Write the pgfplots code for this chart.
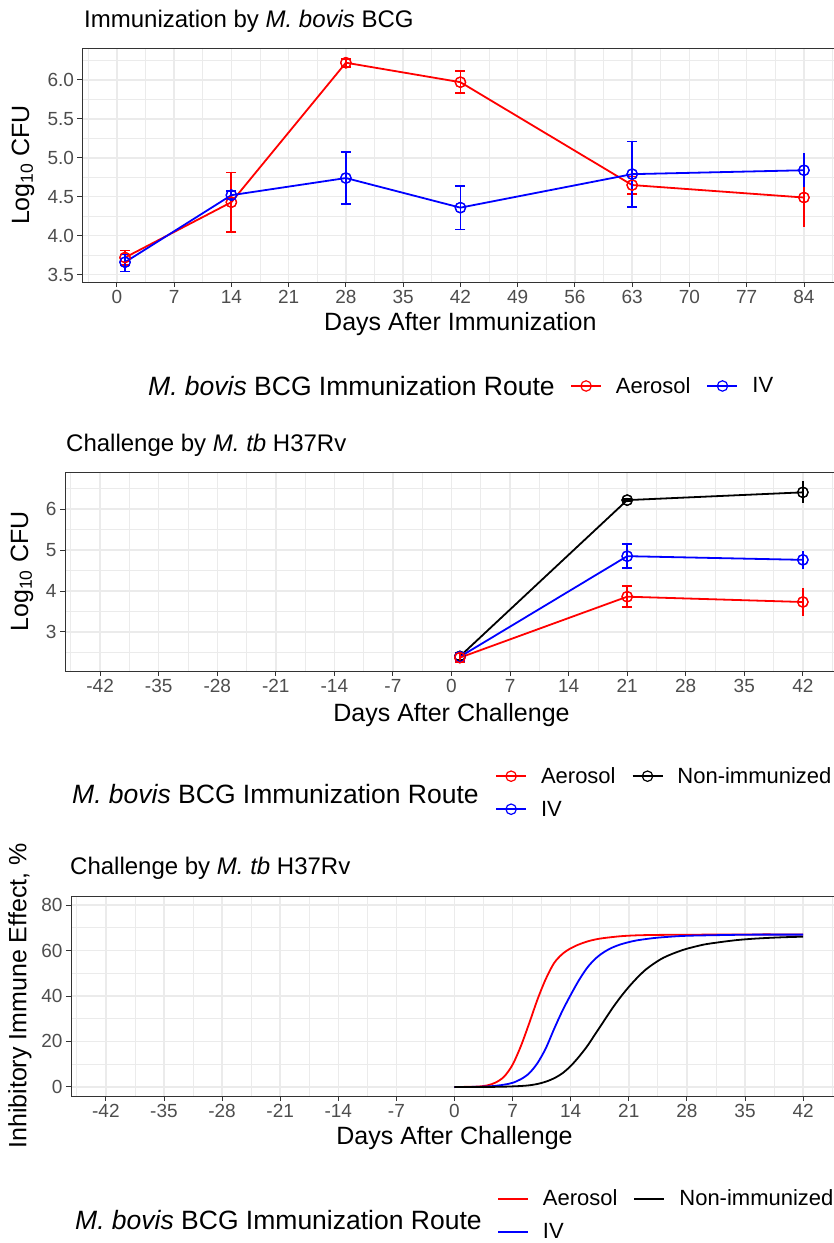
\documentclass[border=0pt]{standalone}
\usepackage{fontspec}
\setmainfont{Liberation Sans}
\usepackage{pgfplots}
\pgfplotsset{compat=1.18}
\definecolor{gridc}{HTML}{EBEBEB}
\definecolor{axisc}{HTML}{333333}
\definecolor{tickc}{HTML}{4D4D4D}
\definecolor{myred}{HTML}{FF0000}
\definecolor{myblue}{HTML}{0000FF}
\pgfplotsset{
  gg/.style={
    scale only axis,
    axis background/.style={fill=white},
    axis line style={axisc, line width=0.9pt},
    grid=both,
    major grid style={gridc, line width=1.5pt},
    minor grid style={gridc, line width=0.75pt},
    tick align=outside,
    xtick pos=bottom, ytick pos=left,
    major tick length=5pt,
    minor tick length=0pt,
    tick style={axisc, line width=0.9pt},
    ticklabel style={font=\fontsize{19}{19}\selectfont, text=tickc},
    label style={font=\fontsize{25}{25}\selectfont},
    legend cell align=left,
    legend style={draw=none, fill=none, font=\fontsize{22}{22}\selectfont, inner sep=0pt, row sep=12pt,
      /tikz/every odd column/.append style={column sep=12pt},
      /tikz/every even column/.append style={column sep=14pt}},
  },
  ln/.style={line width=1.8pt},
  lmk/.style={line width=1.8pt, mark=o, mark size=5.2pt, mark options={line width=1.2pt, solid}},
  ebc/.style={only marks, mark=o, mark size=5.2pt, mark options={line width=1.2pt}, forget plot,
    error bars/.cd, y dir=both, y explicit, error bar style={line width=1.8pt},
    error mark options={rotate=90, line width=1.8pt, mark size=5pt, #1}},
  ebn/.style={only marks, mark=o, mark size=5.2pt, mark options={line width=1.2pt}, forget plot,
    error bars/.cd, y dir=both, y explicit, error bar style={line width=1.8pt}, error mark=none},
  mklegend/.style={legend image code/.code={\draw[mark repeat=2,mark phase=2,##1] plot coordinates {(0pt,0pt) (15pt,0pt) (30pt,0pt)};}},
  lnlegend/.style={legend image code/.code={\draw[##1] (0pt,0pt) -- (30pt,0pt);}},
}
\begin{document}
\begin{tikzpicture}
% ---------------- Panel 1 ----------------
\node[anchor=base west, inner sep=0pt, font=\fontsize{24}{24}\selectfont] at (84pt,1215pt) {Immunization by \textit{M. bovis} BCG};
\begin{axis}[gg, mklegend, at={(82.5pt,961pt)}, anchor=south west, width=755.8pt, height=234pt,
  xmin=-4.2, xmax=88.2, ymin=3.406, ymax=6.409,
  xtick={0,7,14,21,28,35,42,49,56,63,70,77,84},
  xticklabels={0,7,14,21,28,35,42,49,56,63,70,77,84},
  minor xtick={-3.5,3.5,10.5,17.5,24.5,31.5,38.5,45.5,52.5,59.5,66.5,73.5,80.5,87.5},
  ytick={3.5,4,4.5,5,5.5,6}, yticklabels={3.5,4.0,4.5,5.0,5.5,6.0},
  minor ytick={3.75,4.25,4.75,5.25,5.75,6.25},
  xlabel={Days After Immunization}, ylabel={Log\textsubscript{10} CFU},
  xlabel style={at={(axis description cs:0.5,-0.1795)}, anchor=center},
  ylabel style={at={(axis description cs:-0.0787,0.5)}, anchor=center},
  legend columns=2,
  legend style={at={(axis description cs:0.645,-0.4444)}, anchor=west},
]
\addlegendimage{myred, lmk}\addlegendentry{Aerosol}
\addlegendimage{myblue, lmk}\addlegendentry{IV}
% Aerosol
\addplot[myred, lmk, forget plot] table[row sep=\\] {x y\\ 1 3.72\\ 14 4.43\\ 28 6.22\\ 42 5.97\\ 63 4.65\\ 84 4.49\\};
\addplot[myred, ebc=myred] table[row sep=\\, x=x, y=y, y error plus=ep, y error minus=em] {x y ep em\\ 1 3.72 0.09 0.10\\ 14 4.43 0.38 0.38\\ 28 6.22 0.05 0.05\\ 42 5.97 0.14 0.14\\ 63 4.65 0.11 0.11\\};
\addplot[myred, ebn] table[row sep=\\, x=x, y=y, y error plus=ep, y error minus=em] {x y ep em\\ 84 4.49 0.38 0.38\\};
% IV
\addplot[myblue, lmk, forget plot] table[row sep=\\] {x y\\ 1 3.66\\ 14 4.52\\ 28 4.74\\ 42 4.36\\ 63 4.79\\ 84 4.84\\};
\addplot[myblue, ebc=myblue] table[row sep=\\, x=x, y=y, y error plus=ep, y error minus=em] {x y ep em\\ 1 3.66 0.10 0.12\\ 14 4.52 0.05 0.05\\ 28 4.74 0.33 0.33\\ 42 4.36 0.28 0.28\\ 63 4.79 0.42 0.42\\};
\addplot[myblue, ebn] table[row sep=\\, x=x, y=y, y error plus=ep, y error minus=em] {x y ep em\\ 84 4.84 0.22 0.22\\};
\end{axis}
\node[anchor=west, inner sep=0pt, font=\fontsize{26.5}{26.5}\selectfont] at (148pt,857pt) {\textit{M. bovis} BCG Immunization Route};

% ---------------- Panel 2 ----------------
\node[anchor=base west, inner sep=0pt, font=\fontsize{24}{24}\selectfont] at (66pt,791pt) {Challenge by \textit{M. tb} H37Rv};
\begin{axis}[gg, mklegend, at={(65pt,572pt)}, anchor=south west, width=773pt, height=199pt,
  xmin=-46.2, xmax=46.2, ymin=2.044, ymax=6.907,
  xtick={-42,-35,-28,-21,-14,-7,0,7,14,21,28,35,42},
  xticklabels={-42,-35,-28,-21,-14,-7,0,7,14,21,28,35,42},
  minor xtick={-45.5,-38.5,-31.5,-24.5,-17.5,-10.5,-3.5,3.5,10.5,17.5,24.5,31.5,38.5,45.5},
  ytick={3,4,5,6}, yticklabels={3,4,5,6},
  minor ytick={2.5,3.5,4.5,5.5,6.5},
  xlabel={Days After Challenge}, ylabel={Log\textsubscript{10} CFU},
  xlabel style={at={(axis description cs:0.5,-0.221)}, anchor=center},
  ylabel style={at={(axis description cs:-0.0556,0.5)}, anchor=center},
  legend columns=2,
  legend style={at={(axis description cs:0.5563,-0.6106)}, anchor=west},
]
\addlegendimage{myred, lmk}\addlegendentry{Aerosol}
\addlegendimage{black, lmk}\addlegendentry{Non-immunized}
\addlegendimage{myblue, lmk}\addlegendentry{IV}
% Non-immunized
\addplot[black, lmk, forget plot] table[row sep=\\] {x y\\ 1 2.40\\ 21 6.22\\ 42 6.41\\};
\addplot[black, ebc=black] table[row sep=\\, x=x, y=y, y error plus=ep, y error minus=em] {x y ep em\\ 1 2.40 0.08 0.08\\ 21 6.22 0.03 0.03\\};
\addplot[black, ebn] table[row sep=\\, x=x, y=y, y error plus=ep, y error minus=em] {x y ep em\\ 42 6.41 0.27 0.27\\};
% IV
\addplot[myblue, lmk, forget plot] table[row sep=\\] {x y\\ 1 2.39\\ 21 4.85\\ 42 4.76\\};
\addplot[myblue, ebc=myblue] table[row sep=\\, x=x, y=y, y error plus=ep, y error minus=em] {x y ep em\\ 1 2.39 0.10 0.10\\ 21 4.85 0.30 0.28\\};
\addplot[myblue, ebn] table[row sep=\\, x=x, y=y, y error plus=ep, y error minus=em] {x y ep em\\ 42 4.76 0.22 0.23\\};
% Aerosol
\addplot[myred, lmk, forget plot] table[row sep=\\] {x y\\ 1 2.37\\ 21 3.86\\ 42 3.73\\};
\addplot[myred, ebc=myred] table[row sep=\\, x=x, y=y, y error plus=ep, y error minus=em] {x y ep em\\ 1 2.37 0.12 0.12\\ 21 3.86 0.26 0.26\\};
\addplot[myred, ebn] table[row sep=\\, x=x, y=y, y error plus=ep, y error minus=em] {x y ep em\\ 42 3.73 0.34 0.33\\};
\end{axis}
\node[anchor=west, inner sep=0pt, font=\fontsize{26.5}{26.5}\selectfont] at (72pt,449pt) {\textit{M. bovis} BCG Immunization Route};

% ---------------- Panel 3 ----------------
\node[anchor=base west, inner sep=0pt, font=\fontsize{24}{24}\selectfont] at (70pt,368pt) {Challenge by \textit{M. tb} H37Rv};
\begin{axis}[gg, lnlegend, at={(71pt,147pt)}, anchor=south west, width=767pt, height=200pt,
  xmin=-46.2, xmax=46.2, ymin=-4, ymax=84,
  xtick={-42,-35,-28,-21,-14,-7,0,7,14,21,28,35,42},
  xticklabels={-42,-35,-28,-21,-14,-7,0,7,14,21,28,35,42},
  minor xtick={-45.5,-38.5,-31.5,-24.5,-17.5,-10.5,-3.5,3.5,10.5,17.5,24.5,31.5,38.5,45.5},
  ytick={0,20,40,60,80}, yticklabels={0,20,40,60,80},
  minor ytick={10,30,50,70},
  xlabel={Days After Challenge}, ylabel={Inhibitory Immune Effect, \%},
  xlabel style={at={(axis description cs:0.5,-0.21)}, anchor=center},
  ylabel style={at={(axis description cs:-0.0665,0.5)}, anchor=center},
  legend columns=2,
  legend style={at={(axis description cs:0.5554,-0.595)}, anchor=west},
]
\addlegendimage{myred, ln}\addlegendentry{Aerosol}
\addlegendimage{black, ln}\addlegendentry{Non-immunized}
\addlegendimage{myblue, ln}\addlegendentry{IV}
\addplot[myred, ln, smooth, forget plot] table[row sep=\\] {x y\\ 0 0\\ 1 0\\ 2 0.05\\ 3 0.2\\ 4 0.7\\ 5 2.0\\ 6 4.6\\ 7 9.8\\ 8 18\\ 9 28\\ 10 38.5\\ 11 47.5\\ 12 54.5\\ 13 58.5\\ 14 61\\ 15 62.7\\ 16 64.0\\ 17 64.9\\ 18 65.5\\ 20 66.3\\ 22 66.7\\ 25 66.9\\ 30 67.0\\ 35 67.1\\ 42 67.1\\};
\addplot[myblue, ln, smooth, forget plot] table[row sep=\\] {x y\\ 0 0\\ 2 0\\ 4 0.2\\ 5 0.5\\ 6 1.0\\ 7 1.8\\ 8 3.4\\ 9 6.0\\ 10 10.5\\ 11 17\\ 12 25.5\\ 13 33.5\\ 14 40.5\\ 15 47\\ 16 52.5\\ 17 56.5\\ 18 59.3\\ 19 61.3\\ 20 62.7\\ 21 63.7\\ 22 64.5\\ 24 65.5\\ 26 66.1\\ 28 66.5\\ 32 66.8\\ 36 67.0\\ 42 67.0\\};
\addplot[black, ln, smooth, forget plot] table[row sep=\\] {x y\\ 0 0\\ 4 0\\ 6 0.1\\ 8 0.4\\ 9 0.7\\ 10 1.3\\ 11 2.3\\ 12 3.8\\ 13 6.0\\ 14 9.2\\ 15 13.3\\ 16 18\\ 17 23.5\\ 18 29\\ 19 34.5\\ 20 39.5\\ 21 44\\ 22 48\\ 23 51.5\\ 24 54.2\\ 25 56.5\\ 26 58.2\\ 27 59.6\\ 28 60.8\\ 30 62.6\\ 32 63.7\\ 34 64.6\\ 36 65.2\\ 38 65.6\\ 40 65.9\\ 42 66.1\\};
\end{axis}
\node[anchor=west, inner sep=0pt, font=\fontsize{26.5}{26.5}\selectfont] at (75pt,23pt) {\textit{M. bovis} BCG Immunization Route};

\pgfresetboundingbox
\useasboundingbox (0pt,0pt) rectangle (834pt,1243pt);
\end{tikzpicture}
\end{document}
